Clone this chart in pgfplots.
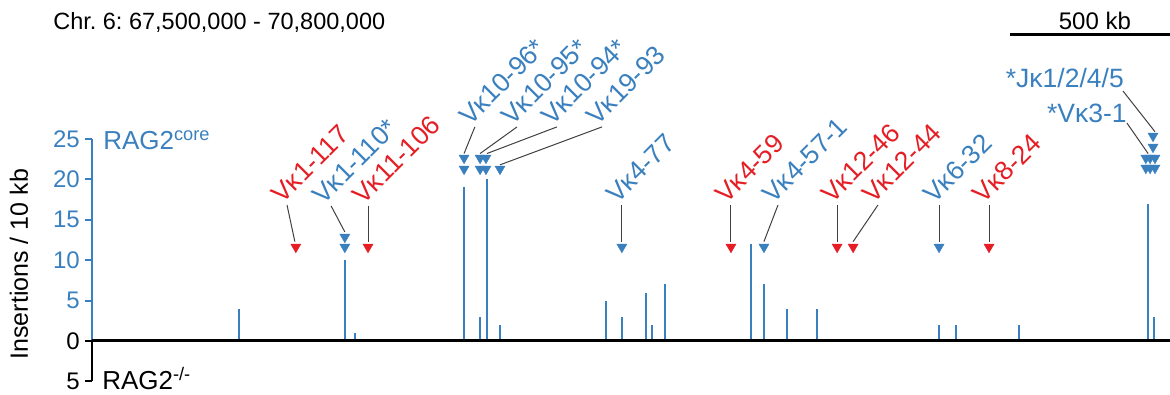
\documentclass[border=0pt]{standalone}
\usepackage{pgfplots}
\pgfplotsset{compat=1.18}
\usepackage{fontspec}
\setmainfont{Liberation Sans}
\frenchspacing
\definecolor{myblue}{HTML}{3A80BE}
\definecolor{myred}{HTML}{E41E24}
\newcommand{\lf}{\fontsize{26.5bp}{30bp}\selectfont}
\newcommand{\kp}{κ}
\tikzset{lbl/.style={rotate=45, anchor=base west, inner sep=0pt, font=\lf}}
\pgfplotsset{arr/.style={black!75, line width=1bp, no marks, forget plot}}
\begin{document}
\begin{tikzpicture}
\begin{axis}[scale only axis, width=1078bp, height=242.4bp,
  xmin=0, xmax=3300, ymin=-5, ymax=25, clip=false,
  axis line style={draw=none}, xtick=\empty,
  ytick={-5,0,5,10,15,20,25},
  yticklabels={5,0,{\textcolor{myblue}{5}},{\textcolor{myblue}{10}},{\textcolor{myblue}{15}},{\textcolor{myblue}{20}},{\textcolor{myblue}{25}}},
  ytick pos=left, major tick length=0pt,
  /pgf/number format/assume math mode=true,
  yticklabel style={inner sep=0pt, xshift=-12bp, anchor=east, font=\fontsize{24bp}{28bp}\selectfont}]
% bars
\addplot[ycomb, myblue, line width=2.5bp, no marks] coordinates {(450,4) (774,10) (805,1) (1139,19) (1188,3) (1209,20) (1249,2) (1573,5) (1622,3) (1696,6) (1714,2) (1754,7) (2017,12) (2057,7) (2128,4) (2219,4) (2593,2) (2645,2) (2838,2) (3233,17) (3251,3)};
% axes
\draw[myblue, line width=2.5bp] (axis cs:0,0) -- (axis cs:0,25);
\draw[black, line width=2.5bp] (axis cs:0,-5) -- (axis cs:0,0);
\draw[myblue, line width=2bp] (axis cs:0,5) -- ([xshift=-7bp]axis cs:0,5);
\draw[myblue, line width=2bp] (axis cs:0,10) -- ([xshift=-7bp]axis cs:0,10);
\draw[myblue, line width=2bp] (axis cs:0,15) -- ([xshift=-7bp]axis cs:0,15);
\draw[myblue, line width=2bp] (axis cs:0,20) -- ([xshift=-7bp]axis cs:0,20);
\draw[myblue, line width=2bp] (axis cs:0,25) -- ([xshift=-7bp]axis cs:0,25);
\draw[black, line width=2bp] (axis cs:0,0) -- ([xshift=-7bp]axis cs:0,0);
\draw[black, line width=2bp] (axis cs:0,-5) -- ([xshift=-7bp]axis cs:0,-5);
\draw[black, line width=3bp] (axis cs:-1,0) -- (axis cs:3300,0);
% arrows
\addplot[arr] coordinates {(597,16.83) (621,12.3)};
\addplot[arr] coordinates {(732,16.71) (774,13.5)};
\addplot[arr] coordinates {(845,16.71) (845,12.3)};
\addplot[arr] coordinates {(1172,26.49) (1139,23.2)};
\addplot[arr] coordinates {(1301,26.49) (1188,23.2)};
\addplot[arr] coordinates {(1423,26.49) (1209,23.2)};
\addplot[arr] coordinates {(1561,26.49) (1249,21.8)};
\addplot[arr] coordinates {(1622,16.83) (1622,12.3)};
\addplot[arr] coordinates {(1956,16.83) (1956,12.3)};
\addplot[arr] coordinates {(2100,16.83) (2057,12.3)};
\addplot[arr] coordinates {(2281,16.83) (2281,12.3)};
\addplot[arr] coordinates {(2406,16.83) (2330,12.3)};
\addplot[arr] coordinates {(2593,16.83) (2593,12.3)};
\addplot[arr] coordinates {(2746,16.83) (2746,12.3)};
\addplot[arr] coordinates {(3156,30.94) (3254,25.9)};
\addplot[arr] coordinates {(3168,26.98) (3233,23.2)};
% triangles
\addplot[only marks, mark=triangle*, mark size=5.8bp, mark options={rotate=180, fill=myblue, draw=myblue}] coordinates {(774,12.87) (774,11.63) (1139,22.65) (1139,21.29) (1188,22.65) (1206,22.65) (1188,21.29) (1206,21.29) (1249,21.29) (1622,11.63) (2057,11.63) (2593,11.63) (3248,25.37) (3248,24.01) (3226,22.65) (3239,22.65) (3254,22.65) (3226,21.41) (3239,21.41) (3254,21.41)};
\addplot[only marks, mark=triangle*, mark size=5.8bp, mark options={rotate=180, fill=myred, draw=myred}] coordinates {(624,11.63) (845,11.63) (1956,11.63) (2281,11.63) (2330,11.63) (2746,11.63)};
% labels
\node[lbl, text=myred] at (axis cs:582,16.83) {V\kp1-117};
\node[lbl, text=myblue] at (axis cs:708,16.71) {V\kp1-110*};
\node[lbl, text=myred] at (axis cs:830,16.71) {V\kp11-106};
\node[lbl, text=myblue] at (axis cs:1157,26.49) {V\kp10-96*};
\node[lbl, text=myblue] at (axis cs:1286,26.49) {V\kp10-95*};
\node[lbl, text=myblue] at (axis cs:1408,26.49) {V\kp10-94*};
\node[lbl, text=myblue] at (axis cs:1546,26.49) {V\kp19-93};
\node[lbl, text=myblue] at (axis cs:1607,16.83) {V\kp4-77};
\node[lbl, text=myred] at (axis cs:1941,16.83) {V\kp4-59};
\node[lbl, text=myblue] at (axis cs:2085,16.83) {V\kp4-57-1};
\node[lbl, text=myred] at (axis cs:2265,16.83) {V\kp12-46};
\node[lbl, text=myred] at (axis cs:2391,16.83) {V\kp12-44};
\node[lbl, text=myblue] at (axis cs:2578,16.83) {V\kp6-32};
\node[lbl, text=myred] at (axis cs:2730,16.83) {V\kp8-24};
\node[anchor=base east, inner sep=0pt, font=\lf, text=myblue] at (axis cs:3159,31.31) {*J\kp1/2/4/5};
\node[anchor=base east, inner sep=0pt, font=\lf, text=myblue] at (axis cs:3168,27.1) {*V\kp3-1};
% other text
\node[anchor=base west, inner sep=0pt, font=\fontsize{26bp}{30bp}\selectfont, text=myblue] at (axis cs:34,23.64) {RAG2\textsuperscript{core}};
\node[anchor=base west, inner sep=0pt, font=\fontsize{26bp}{30bp}\selectfont, text=black] at (axis cs:31,-6.06) {RAG2\textsuperscript{-/-}};
\node[anchor=base west, inner sep=0pt, font=\fontsize{23.5bp}{28bp}\selectfont] at (axis cs:-119,38.6) {Chr. 6: 67,500,000 - 70,800,000};
\draw[black, line width=3.5bp] (axis cs:2810,37.9) -- (axis cs:3300,37.9);
\node[anchor=base, inner sep=0pt, font=\fontsize{24bp}{28bp}\selectfont] at (axis cs:3070,38.55) {500 kb};
\node[rotate=90, anchor=base, inner sep=0pt, font=\fontsize{25bp}{30bp}\selectfont] at (axis cs:-196,9.5) {Insertions / 10 kb};
\coordinate (bbsw) at (axis cs:-281.6,-6.68);
\coordinate (bbne) at (axis cs:3300,42.2);
\end{axis}
\pgfresetboundingbox
\path[use as bounding box] (bbsw) rectangle (bbne);
\end{tikzpicture}
\end{document}
